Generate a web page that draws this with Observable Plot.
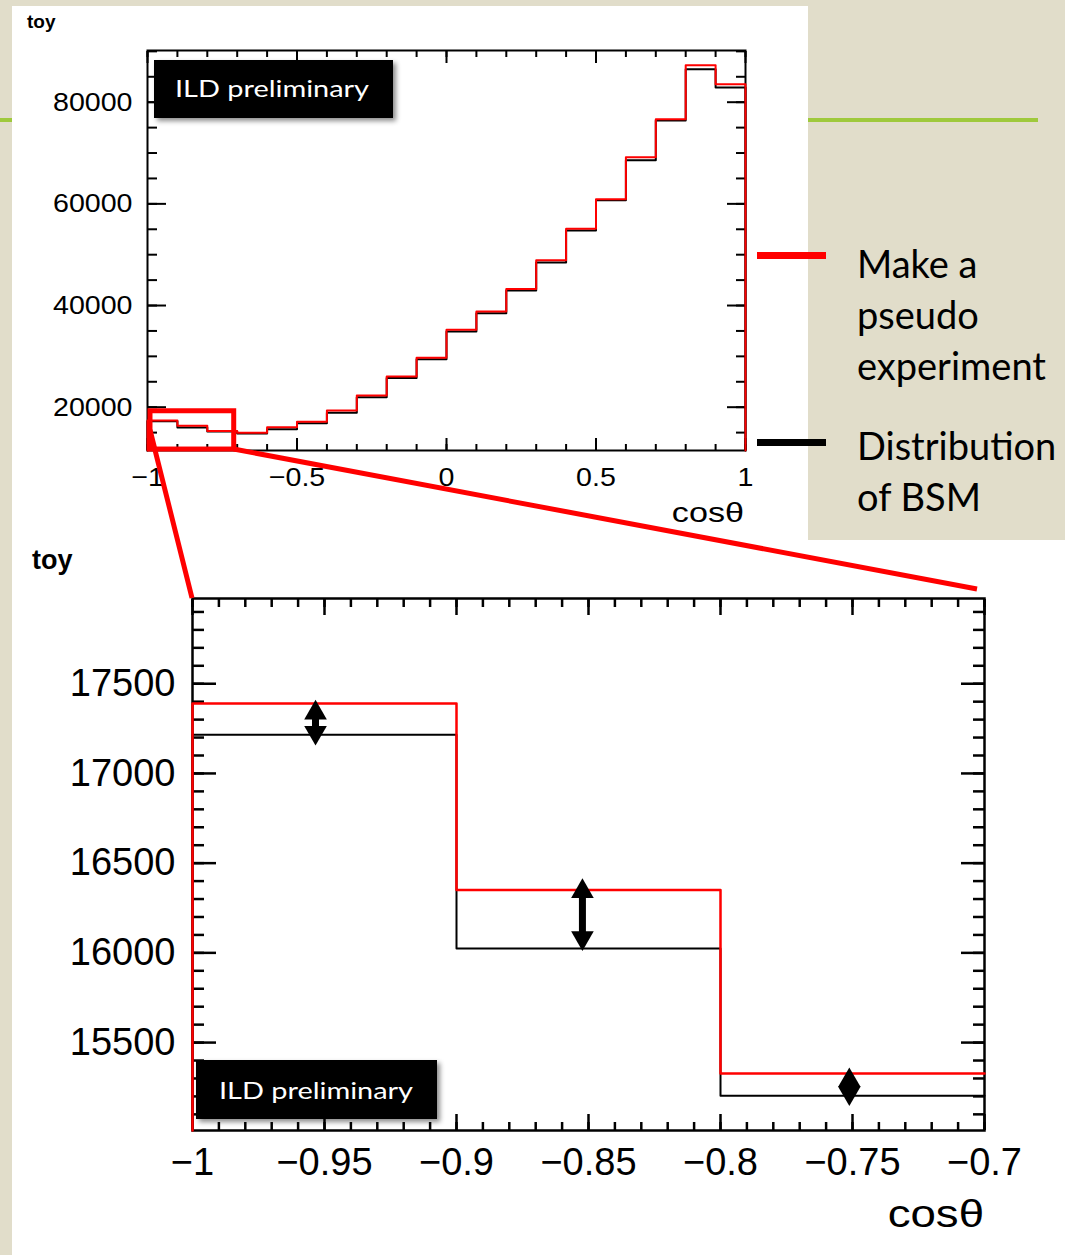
<!DOCTYPE html>
<html>
<head>
<meta charset="utf-8">
<script src="https://cdn.jsdelivr.net/npm/d3@7"></script>
<script src="https://cdn.jsdelivr.net/npm/@observablehq/plot@0.6"></script>
<style>
  html, body { margin: 0; padding: 0; }
  body { width: 1065px; height: 1255px; position: relative; background: #e1ddca; overflow: hidden; }
  .panel { position: absolute; background: #ffffff; }
  #rule { position: absolute; left: 0; top: 118px; width: 1038px; height: 4px; background: #9fc93c; }
  #topChart { position: absolute; left: 12px; top: 6px; }
  #zoomChart { position: absolute; left: 12px; top: 540px; }
  #overlay { position: absolute; left: 0; top: 0; }
</style>
</head>
<body>
<div id="rule"></div>
<div class="panel" style="left:12px;top:6px;width:796px;height:534px"></div>
<div class="panel" style="left:12px;top:540px;width:1053px;height:715px"></div>
<div id="topChart"></div>
<div id="zoomChart"></div>
<svg id="overlay" width="1065" height="1255"></svg>

<script>
// cosθ bin edges: 20 bins of width 0.1
const cosEdges = [-1, -0.9, -0.8, -0.7, -0.6, -0.5, -0.4, -0.3, -0.2, -0.1, 0,
                  0.1, 0.2, 0.3, 0.4, 0.5, 0.6, 0.7, 0.8, 0.9, 1];
// toy counts per bin: pseudo experiment (red) and BSM distribution (black)
const pseudoCounts = [17390, 16350, 15328, 14960, 16050, 17130, 19350, 22300, 26040, 29720,
                      35240, 38840, 43230, 48900, 55120, 60890, 69150, 76630, 87260, 83520];
const bsmCounts    = [17215, 16025, 15203, 14800, 15650, 16850, 18900, 21970, 25750, 29450,
                      34900, 38500, 42970, 48480, 54780, 60690, 68560, 76400, 86480, 82870];

// double arrows in the zoomed view: position, upper tip, lower tip
const arrowCenters = [-0.9534, -0.8523, -0.7512];
const arrowHigh    = [17410, 16415, 15361];
const arrowLow     = [17156, 16011, 15147];

// zoom box drawn on the full-range histogram
const zoomBoxX = [-0.99, -0.71];
const zoomBoxY = [11670, 19200];

// axis ticks
const topXTicks  = [-1, -0.5, 0, 0.5, 1];
const topYTicks  = [20000, 40000, 60000, 80000];
const zoomXTicks = [-1, -0.95, -0.9, -0.85, -0.8, -0.75, -0.7];
const zoomYTicks = [15500, 16000, 16500, 17000, 17500];

const topDomainX = [-1, 1], topDomainY = [11480, 90170];
const zoomDomainX = [-1, -0.7], zoomDomainY = [15010, 17975];

const minus = v => (v < 0 ? "\u2212" : "") + String(Math.abs(v));

// ROOT-style histogram outline (step curve from the baseline)
function stepPoints(counts, from, to, base, closeRight) {
  const pts = [{x: cosEdges[from], y: base}];
  for (let i = from; i < to; i++) pts.push({x: cosEdges[i], y: counts[i]});
  pts.push({x: cosEdges[to], y: counts[to - 1]});
  if (closeRight) pts.push({x: cosEdges[to], y: base});
  return pts;
}

// inward ticks on all four sides of the frame
function frameTicks(o) {
  const c = {stroke: "black", strokeWidth: o.sw, fill: "none", label: null, tickFormat: () => ""};
  return [
    Plot.axisX({...c, anchor: "bottom", ticks: o.xMinor, tickSize: -o.xMinorLen}),
    Plot.axisX({...c, anchor: "bottom", ticks: o.xMajor, tickSize: -o.xMajorLen}),
    Plot.axisX({...c, anchor: "top", ticks: o.xMinor, tickSize: -o.xMinorLen}),
    Plot.axisX({...c, anchor: "top", ticks: o.xMajor, tickSize: -o.xMajorLen}),
    Plot.axisY({...c, anchor: "left", ticks: o.yMinor, tickSize: -o.yMinorLen}),
    Plot.axisY({...c, anchor: "left", ticks: o.yMajor, tickSize: -o.yMajorLen}),
    Plot.axisY({...c, anchor: "right", ticks: o.yMinor, tickSize: -o.yMinorLen}),
    Plot.axisY({...c, anchor: "right", ticks: o.yMajor, tickSize: -o.yMajorLen})
  ];
}

const rootStyle = {
  background: "transparent",
  fontFamily: "'Liberation Sans', Arial, Helvetica, sans-serif",
  color: "black",
  overflow: "visible"
};

// ---- full range histogram ----
const topMinorX = d3.range(0, 21).map(i => -1 + i * 0.1);
const topMinorY = d3.range(3, 19).map(i => i * 5000);

const topPlot = Plot.plot({
  width: 796, height: 534,
  marginLeft: 135, marginRight: 63, marginTop: 44, marginBottom: 90,
  x: {domain: topDomainX, label: null},
  y: {domain: topDomainY, label: null},
  style: rootStyle,
  marks: [
    Plot.frame({stroke: "black", strokeWidth: 2}),
    ...frameTicks({sw: 2, xMajor: topXTicks, xMinor: topMinorX, yMajor: topYTicks, yMinor: topMinorY,
                   xMajorLen: 12, xMinorLen: 6, yMajorLen: 19, yMinorLen: 10}),
    Plot.axisX({anchor: "bottom", ticks: topXTicks, tickSize: 0, tickPadding: 17, tickFormat: minus,
                fontSize: 26, label: null}),
    Plot.axisY({anchor: "left", ticks: topYTicks, tickSize: 0, tickPadding: 15, tickFormat: d => String(d),
                fontSize: 26, label: null}),
    Plot.line(stepPoints(bsmCounts, 0, 20, topDomainY[0], true),
              {x: "x", y: "y", curve: "step-after", stroke: "black", strokeWidth: 2}),
    Plot.line(stepPoints(pseudoCounts, 0, 20, topDomainY[0], true),
              {x: "x", y: "y", curve: "step-after", stroke: "red", strokeWidth: 2}),
    Plot.rect([0], {x1: () => zoomBoxX[0], x2: () => zoomBoxX[1], y1: () => zoomBoxY[0], y2: () => zoomBoxY[1],
                    fill: "none", stroke: "red", strokeWidth: 5})
  ]
});
document.getElementById("topChart").append(topPlot);

// ---- zoom on the first three bins ----
const zoomMinorX = d3.range(0, 31).map(i => -1 + i * 0.01);
const zoomMinorY = d3.range(151, 180).map(i => i * 100);
const idx = [0, 1, 2];

const zoomPlot = Plot.plot({
  width: 1053, height: 715,
  marginLeft: 180, marginRight: 81, marginTop: 58, marginBottom: 125,
  x: {domain: zoomDomainX, label: null},
  y: {domain: zoomDomainY, label: null},
  style: rootStyle,
  marks: [
    Plot.frame({stroke: "black", strokeWidth: 2.5}),
    ...frameTicks({sw: 2.5, xMajor: zoomXTicks, xMinor: zoomMinorX, yMajor: zoomYTicks, yMinor: zoomMinorY,
                   xMajorLen: 16, xMinorLen: 8, yMajorLen: 24, yMinorLen: 12}),
    Plot.axisX({anchor: "bottom", ticks: zoomXTicks, tickSize: 0, tickPadding: 18, tickFormat: minus,
                fontSize: 38, label: null}),
    Plot.axisY({anchor: "left", ticks: zoomYTicks, tickSize: 0, tickPadding: 17, tickFormat: d => String(d),
                fontSize: 38, label: null}),
    Plot.line(stepPoints(bsmCounts, 0, 3, zoomDomainY[0], false),
              {x: "x", y: "y", curve: "step-after", stroke: "black", strokeWidth: 2}),
    Plot.line(stepPoints(pseudoCounts, 0, 3, zoomDomainY[0], false),
              {x: "x", y: "y", curve: "step-after", stroke: "red", strokeWidth: 2.5}),
    // arrow shafts, kept inside the two heads
    Plot.ruleX(idx, {x: i => arrowCenters[i], y1: i => arrowHigh[i], y2: i => arrowLow[i],
                     stroke: "black", strokeWidth: 7, insetTop: 14, insetBottom: 14}),
    Plot.dot(idx, {x: i => arrowCenters[i], y: i => arrowHigh[i], symbol: "triangle", r: 8.4,
                   fill: "black", stroke: "none", dy: 13}),
    Plot.dot(idx, {x: i => arrowCenters[i], y: i => arrowLow[i], symbol: "triangle", r: 8.4, rotate: 180,
                   fill: "black", stroke: "none", dy: -13})
  ]
});
document.getElementById("zoomChart").append(zoomPlot);

// slightly wider tick labels on the small plot
function widen(svg, s) {
  svg.querySelectorAll('g[aria-label$="tick label"] text').forEach(t => {
    const tr = t.getAttribute("transform");
    if (tr) t.setAttribute("transform", tr + ` scale(${s},1)`);
    else {
      const x = +t.getAttribute("x") || 0;
      t.setAttribute("transform", `translate(${x},0) scale(${s},1) translate(${-x},0)`);
    }
  });
}
widen(topPlot, 1.1);

// ---- overlay: connectors, titles, labels, legend ----
const ov = d3.select("#overlay");
const defs = ov.append("defs");
const f = defs.append("filter").attr("id", "shadow").attr("x", "-10%").attr("y", "-20%")
  .attr("width", "130%").attr("height", "160%");
f.append("feDropShadow").attr("dx", 3).attr("dy", 3).attr("stdDeviation", 2.5)
  .attr("flood-color", "#000").attr("flood-opacity", 0.45);

const tx = topPlot.scale("x"), ty = topPlot.scale("y");
const zx = zoomPlot.scale("x"), zy = zoomPlot.scale("y");
const T = (x, y) => [12 + tx.apply(x), 6 + ty.apply(y)];
const Z = (x, y) => [12 + zx.apply(x), 540 + zy.apply(y)];

const a1 = T(zoomBoxX[0], (zoomBoxY[0] + zoomBoxY[1]) / 2), b1 = Z(zoomDomainX[0], zoomDomainY[1]);
const a2 = T(zoomBoxX[1], zoomBoxY[0]), b2 = Z(zoomDomainX[1], zoomDomainY[1]);
[[a1, b1], [a2, [b2[0] - 7, b2[1] - 9]]].forEach(([a, b]) => {
  ov.append("line").attr("x1", a[0]).attr("y1", a[1]).attr("x2", b[0]).attr("y2", b[1])
    .attr("stroke", "red").attr("stroke-width", 5);
});

const helv = "'Liberation Sans', Arial, Helvetica, sans-serif";
const add = (x, y, text, size, opts = {}) => ov.append("text")
  .attr("transform", `translate(${x},${y}) scale(${opts.sx || 1},1)`)
  .attr("font-family", opts.family || helv).attr("font-size", size)
  .attr("font-weight", opts.weight || "normal").attr("text-anchor", opts.anchor || "start")
  .attr("fill", opts.fill || "black").text(text);

add(27, 28, "toy", 19, {weight: "bold"});
add(32, 569, "toy", 27, {weight: "bold"});
add(744, 522, "cos\u03b8", 28, {anchor: "end", sx: 1.22});
add(984, 1227, "cos\u03b8", 38, {anchor: "end", sx: 1.2});

// "ILD preliminary" tags
const calib = "Lato, 'Open Sans', sans-serif";
[[154, 60, 239, 58, 175, 97], [196, 1060, 241, 59, 219, 1099]].forEach(([x, y, w, h, lx, ly]) => {
  ov.append("rect").attr("x", x).attr("y", y).attr("width", w).attr("height", h)
    .attr("fill", "black").attr("filter", "url(#shadow)");
  ov.append("text").attr("x", lx).attr("y", ly).attr("font-family", calib).attr("font-size", 24)
    .attr("fill", "white").attr("textLength", 194).attr("lengthAdjust", "spacingAndGlyphs")
    .text("ILD preliminary");
});

// legend
ov.append("rect").attr("x", 757).attr("y", 252).attr("width", 69).attr("height", 7).attr("fill", "red");
ov.append("rect").attr("x", 757).attr("y", 439).attr("width", 69).attr("height", 7).attr("fill", "black");
[["Make a", 278], ["pseudo", 329], ["experiment", 380], ["Distribution", 460], ["of BSM", 511]]
  .forEach(([t, y]) => add(857, y, t, 38, {family: calib}));
</script>
</body>
</html>
